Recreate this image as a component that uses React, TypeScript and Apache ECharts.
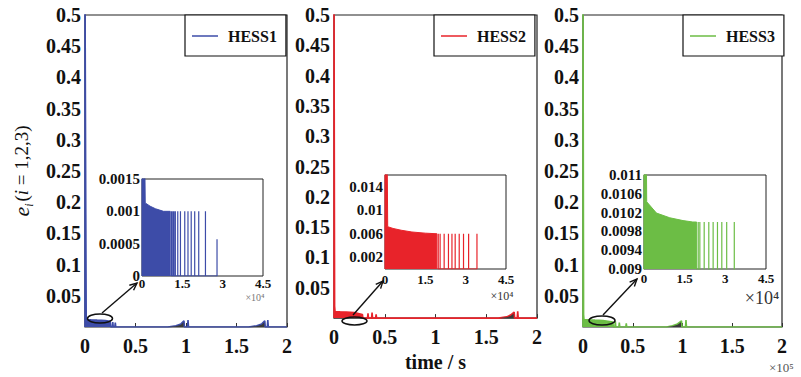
import React, { useEffect, useRef } from "react";
import * as echarts from "echarts";

const FONT = '"Liberation Serif", "Times New Roman", serif';

// Series identity
const hessNames = ["HESS1", "HESS2", "HESS3"];
const hessColors = ["#3d4ca8", "#e8232a", "#6cbd45"];
const rampColor = "#3a3a3a";

// Main axes: time in 1e5 s, error 0 .. 0.5
const mainTimeMin = 0;
const mainTimeMax = 2;
const mainTimeStep = 0.5;
const mainErrMax = 0.5;
const mainErrStep = 0.05;

// Zoomed axes: time in 1e4 s
const insetTimeMax = 4.5;
const insetTimeLabels = [0, 1.5, 3, 4.5];
const insetTimeTicks = [0.5, 1, 1.5, 2, 2.5, 3, 3.5, 4];
const insetErrMin = [0, 0, 0.009];
const insetErrMax = [0.0015, 0.016, 0.011];
const insetErrLabels1 = [0, 0.0005, 0.001, 0.0015];
const insetErrLabels2 = [0.002, 0.006, 0.01, 0.014];
const insetErrLabels3 = [0.009, 0.0094, 0.0098, 0.0102, 0.0106, 0.011];

// HESS1 error over the whole run
const hess1Time = [0, 0, 0.008, 0.012, 0.06, 0.12, 0.2, 0.25, 0.255, 0.27, 0.275, 0.28, 0.295, 0.3, 0.305, 0.82, 0.9, 0.95, 0.98, 0.985, 1.015, 1.02, 1.025, 1.62, 1.7, 1.75, 1.78, 1.785, 1.805, 1.81, 1.815, 2];
const hess1Err = [0, 0.56, 0.18, 0.012, 0.0115, 0.011, 0.0105, 0.009, 0, 0, 0.008, 0, 0, 0.007, 0, 0, 0.002, 0.005, 0.01, 0, 0, 0.011, 0, 0, 0.002, 0.005, 0.01, 0, 0, 0.011, 0, 0];
const hess1RampTime = [0.82, 0.9, 0.95, 0.975, 0.975, 1.62, 1.7, 1.75, 1.775, 1.775];
const hess1RampErr = [0, 0.0012, 0.0035, 0.0075, 0, 0, 0.0012, 0.0035, 0.0075, 0];

// HESS2 error over the whole run
const hess2Time = [0, 0, 0.006, 0.01, 0.06, 0.12, 0.2, 0.28, 0.285, 0.33, 0.335, 0.34, 0.37, 0.375, 0.38, 0.41, 0.415, 0.42, 1.62, 1.7, 1.74, 1.775, 1.78, 1.805, 1.81, 1.815, 2];
const hess2Err = [0, 0.56, 0.02, 0.011, 0.0105, 0.01, 0.009, 0.006, 0, 0, 0.008, 0, 0, 0.009, 0, 0, 0.006, 0, 0, 0.002, 0.005, 0.01, 0, 0, 0.011, 0, 0];
const hess2RampTime = [1.62, 1.7, 1.74, 1.77, 1.77];
const hess2RampErr = [0, 0.0012, 0.0035, 0.0075, 0];

// HESS3 error over the whole run
const hess3Time = [0, 0, 0.006, 0.01, 0.06, 0.12, 0.2, 0.3, 0.305, 0.32, 0.325, 0.33, 0.36, 0.365, 0.37, 0.43, 0.435, 0.44, 0.84, 0.9, 0.95, 0.99, 0.995, 1.03, 1.035, 1.04, 2];
const hess3Err = [0, 0.56, 0.02, 0.012, 0.0115, 0.011, 0.0105, 0.008, 0, 0, 0.009, 0, 0, 0.007, 0, 0, 0.006, 0, 0, 0.002, 0.005, 0.01, 0, 0, 0.011, 0, 0];
const hess3RampTime = [0.84, 0.9, 0.95, 0.985, 0.985];
const hess3RampErr = [0, 0.0012, 0.0035, 0.0075, 0];

// Zoomed view: dense switching band (envelope) and isolated pulses
const insetEnvTime1 = [0, 0, 0.1, 0.12, 0.3, 0.5, 0.8, 1.05, 1.05];
const insetEnvErr1 = [0, 0.002, 0.002, 0.00113, 0.00108, 0.00104, 0.001, 0.001, 0];
const pulseTime1 = [1.1, 1.15, 1.19, 1.24, 1.33, 1.43, 1.59, 1.71, 1.83, 1.96, 2.11, 2.36, 2.79];
const pulseErr1 = [0.001, 0.001, 0.001, 0.001, 0.001, 0.001, 0.001, 0.001, 0.001, 0.001, 0.001, 0.001, 0.00057];

const insetEnvTime2 = [0, 0, 0.08, 0.1, 0.3, 0.6, 1.0, 1.5, 1.93, 1.93];
const insetEnvErr2 = [0, 0.02, 0.02, 0.0072, 0.0069, 0.0066, 0.0063, 0.0061, 0.006, 0];
const pulseTime2 = [1.98, 2.05, 2.2, 2.36, 2.49, 2.61, 2.76, 2.92, 3.11, 3.42];
const pulseErr2 = [0.006, 0.006, 0.006, 0.006, 0.006, 0.006, 0.006, 0.006, 0.006, 0.006];

const insetEnvTime3 = [0, 0, 0.08, 0.1, 0.46, 0.95, 1.44, 1.8, 1.94, 1.94];
const insetEnvErr3 = [0, 0.012, 0.012, 0.01043, 0.01019, 0.01009, 0.01003, 0.01, 0.01, 0];
const pulseTime3 = [2.0, 2.06, 2.22, 2.39, 2.55, 2.71, 2.87, 3.05, 3.33];
const pulseErr3 = [0.01, 0.01, 0.01, 0.01, 0.01, 0.01, 0.01, 0.01, 0.01];

const zip = (xs: number[], ys: number[]) => xs.map((x, k) => [x, ys[k]]);
const pulses = (xs: number[], ys: number[]) =>
  xs.flatMap((x, k) => [[x, 0], [x, ys[k]], [x, 0]]);

const mainTraces = [
  [hess1Time, hess1Err],
  [hess2Time, hess2Err],
  [hess3Time, hess3Err],
];
const rampTraces = [
  [hess1RampTime, hess1RampErr],
  [hess2RampTime, hess2RampErr],
  [hess3RampTime, hess3RampErr],
];
const envTraces = [
  [insetEnvTime1, insetEnvErr1],
  [insetEnvTime2, insetEnvErr2],
  [insetEnvTime3, insetEnvErr3],
];
const pulseTraces = [
  [pulseTime1, pulseErr1],
  [pulseTime2, pulseErr2],
  [pulseTime3, pulseErr3],
];
const insetErrLabels = [insetErrLabels1, insetErrLabels2, insetErrLabels3];

// Layout of the three panels and their zoomed views
const mainGrids = [
  { left: 85, top: 15, width: 202, height: 312 },
  { left: 334, top: 15, width: 203, height: 313 },
  { left: 583, top: 15, width: 199, height: 312 },
];
const insetGrids = [
  { left: 142, top: 179, width: 121, height: 97 },
  { left: 385, top: 175, width: 121, height: 94 },
  { left: 644, top: 175, width: 122, height: 94 },
];
const insetLabelMargins = [1, 4, 3];
const legendLefts = [185, 434, 683];
const ellipses = [
  { cx: 100, cy: 318.5, rx: 12.5, ry: 4.5 },
  { cx: 354.5, cy: 321, rx: 12.5, ry: 4 },
  { cx: 602, cy: 320.5, rx: 13, ry: 4.5 },
];
const arrows = [
  [102, 313, 137, 283],
  [353, 315, 383, 281],
  [603, 315, 637, 279],
];

function arrowShapes(x1: number, y1: number, x2: number, y2: number) {
  const a = Math.atan2(y2 - y1, x2 - x1);
  const h = 8;
  const w = 0.42;
  return [
    { type: "line", shape: { x1, y1, x2, y2 }, style: { stroke: "#111", lineWidth: 1.4 }, z: 20 },
    {
      type: "polyline",
      shape: {
        points: [
          [x2 - h * Math.cos(a - w), y2 - h * Math.sin(a - w)],
          [x2, y2],
          [x2 - h * Math.cos(a + w), y2 - h * Math.sin(a + w)],
        ],
      },
      style: { stroke: "#111", lineWidth: 1.4, fill: "none" },
      z: 20,
    },
  ];
}

const boldLabel = (size: number) => ({
  fontFamily: FONT,
  fontWeight: "bold" as const,
  fontSize: size,
  color: "#111",
});

export default function App() {
  const ref = useRef<HTMLDivElement>(null);

  useEffect(() => {
    if (!ref.current) return;
    const chart = echarts.init(ref.current, undefined, { renderer: "svg" });

    const grid: any[] = [];
    const xAxis: any[] = [];
    const yAxis: any[] = [];
    const series: any[] = [];
    const legend: any[] = [];

    mainGrids.forEach((g, i) => {
      grid.push({ ...g, show: true, backgroundColor: "#fff", borderColor: "#222", borderWidth: 1.2 });
      xAxis.push({
        gridIndex: i,
        type: "value",
        min: mainTimeMin,
        max: mainTimeMax,
        interval: mainTimeStep,
        axisLine: { show: false },
        splitLine: { show: false },
        axisTick: { show: true, inside: true, length: 4, lineStyle: { color: "#333" } },
        axisLabel: { ...boldLabel(20), margin: 9, formatter: (v: number) => String(v) },
        ...(i === 1
          ? {
              name: "time / s",
              nameLocation: "middle",
              nameGap: 32,
              nameTextStyle: boldLabel(20),
            }
          : {}),
      });
      yAxis.push({
        gridIndex: i,
        type: "value",
        min: 0,
        max: mainErrMax,
        interval: mainErrStep,
        axisLine: { show: false },
        axisTick: { show: false },
        splitLine: { show: false },
        axisLabel: {
          ...boldLabel(20),
          margin: 4,
          formatter: (v: number) => (v === 0 ? "" : String(+v.toFixed(2))),
        },
        ...(i === 0
          ? {
              name: "{e|e}{s|i}{n|(}{i|i}{n| = 1,2,3)}",
              nameLocation: "middle",
              nameRotate: 90,
              nameGap: 50,
              nameTextStyle: {
                fontFamily: FONT,
                fontSize: 19,
                color: "#111",
                rich: {
                  e: { fontFamily: FONT, fontStyle: "italic", fontSize: 22, color: "#111", lineHeight: 28 },
                  s: { fontFamily: FONT, fontStyle: "italic", fontSize: 12, color: "#111", lineHeight: 18, verticalAlign: "bottom", padding: [0, 2, 0, 0] },
                  i: { fontFamily: FONT, fontStyle: "italic", fontSize: 19, color: "#111", lineHeight: 28 },
                  n: { fontFamily: FONT, fontSize: 19, color: "#111", lineHeight: 28 },
                },
              },
            }
          : {}),
      });

      const [t, e] = mainTraces[i];
      series.push({
        type: "line",
        name: hessNames[i],
        xAxisIndex: i,
        yAxisIndex: i,
        data: zip(t, e),
        symbol: "none",
        showSymbol: false,
        lineStyle: { color: hessColors[i], width: 1.6 },
        itemStyle: { color: hessColors[i] },
        areaStyle: { color: hessColors[i], opacity: 1 },
        z: 3,
      });
      const [rt, re] = rampTraces[i];
      series.push({
        type: "line",
        name: "ramp" + (i + 1),
        xAxisIndex: i,
        yAxisIndex: i,
        data: zip(rt, re),
        symbol: "none",
        lineStyle: { width: 0 },
        itemStyle: { color: rampColor },
        areaStyle: { color: rampColor, opacity: 1 },
        z: 4,
      });

      legend.push({
        data: [{ name: hessNames[i], icon: "rect" }],
        left: legendLefts[i],
        top: 15,
        orient: "horizontal",
        padding: [13, 9, 12, 7],
        itemWidth: 26,
        itemHeight: 1.5,
        borderColor: "#111",
        borderWidth: 1.2,
        backgroundColor: "#fff",
        selectedMode: false,
        textStyle: { ...boldLabel(16), padding: [0, 0, 0, 5], lineHeight: 16 },
      });
    });

    insetGrids.forEach((g, i) => {
      const gi = 3 + i;
      grid.push({ ...g, show: true, backgroundColor: "#fff", borderColor: "#222", borderWidth: 1, z: 5 });
      xAxis.push({
        gridIndex: gi,
        type: "value",
        min: 0,
        max: insetTimeMax,
        axisLine: { show: false },
        splitLine: { show: false },
        axisTick: { show: true, inside: true, length: 3, customValues: insetTimeTicks, lineStyle: { color: "#333" } },
        axisLabel: {
          ...boldLabel(13),
          margin: insetLabelMargins[i],
          customValues: insetTimeLabels,
          formatter: (v: number) => String(v),
        },
      });
      yAxis.push({
        gridIndex: gi,
        type: "value",
        min: insetErrMin[i],
        max: insetErrMax[i],
        axisLine: { show: false },
        axisTick: { show: false },
        splitLine: { show: false },
        axisLabel: { ...boldLabel(15), margin: 2, customValues: insetErrLabels[i], formatter: (v: number) => String(v) },
      });

      const [et, ee] = envTraces[i];
      series.push({
        type: "line",
        name: hessNames[i],
        xAxisIndex: gi,
        yAxisIndex: gi,
        data: zip(et, ee),
        symbol: "none",
        lineStyle: { color: hessColors[i], width: 1 },
        itemStyle: { color: hessColors[i] },
        areaStyle: { color: hessColors[i], opacity: 1, origin: "start" },
        z: 6,
      });
      const [pt, pe] = pulseTraces[i];
      series.push({
        type: "line",
        name: hessNames[i],
        xAxisIndex: gi,
        yAxisIndex: gi,
        data: pulses(pt, pe),
        symbol: "none",
        lineStyle: { color: hessColors[i], width: 1.2 },
        itemStyle: { color: hessColors[i] },
        z: 6,
      });
    });

    const graphic: any[] = [];
    ellipses.forEach((s) => {
      graphic.push({
        type: "ellipse",
        shape: s,
        style: { fill: "none", stroke: "#111", lineWidth: 1.5 },
        z: 20,
      });
    });
    arrows.forEach(([x1, y1, x2, y2]) => graphic.push(...arrowShapes(x1, y1, x2, y2)));
    graphic.push(
      {
        type: "text",
        x: 255,
        y: 297,
        style: { text: "×10⁴", fontFamily: FONT, fontSize: 10, fill: "#777", align: "center", verticalAlign: "middle" },
        z: 20,
      },
      {
        type: "text",
        x: 502,
        y: 296,
        style: { text: "×10⁴", fontFamily: FONT, fontSize: 12, fill: "#333", align: "center", verticalAlign: "middle" },
        z: 20,
      },
      {
        type: "text",
        x: 762,
        y: 298,
        style: { text: "×10⁴", fontFamily: FONT, fontSize: 18, fill: "#333", align: "center", verticalAlign: "middle" },
        z: 20,
      },
      {
        type: "text",
        x: 769,
        y: 367,
        style: { text: "×10⁵", fontFamily: FONT, fontSize: 13, fill: "#555", align: "left", verticalAlign: "middle" },
        z: 20,
      }
    );

    chart.setOption({
      animation: false,
      backgroundColor: "#fff",
      grid,
      xAxis,
      yAxis,
      legend,
      series,
      graphic,
    });

    return () => chart.dispose();
  }, []);

  return <div ref={ref} style={{ width: 801, height: 377, position: "absolute", left: 0, top: 0 }} />;
}
